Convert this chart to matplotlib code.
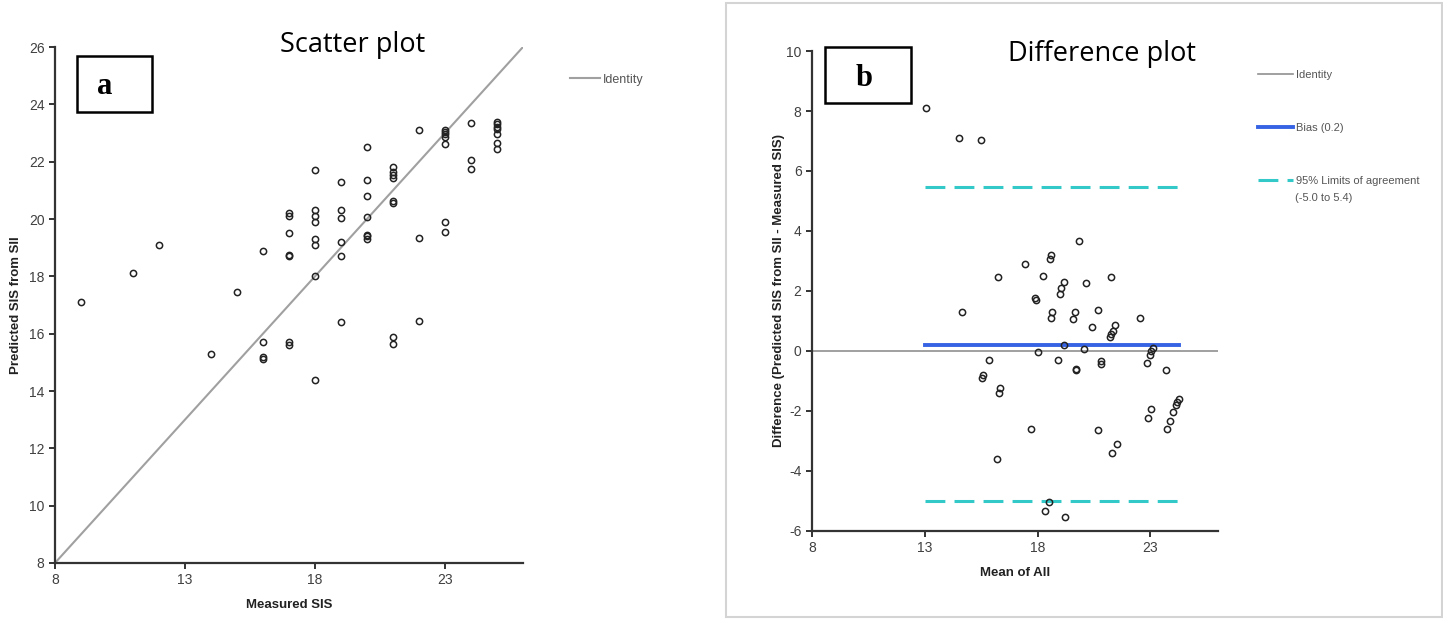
import numpy as np
import matplotlib
matplotlib.use("Agg")
from matplotlib import pyplot as plt
from matplotlib.patches import Rectangle

plt.rcParams['font.family'] = ['Liberation Sans', 'DejaVu Sans']
plt.rcParams['axes.unicode_minus'] = False

# --- panel a: scatter plot ---
measured = [9, 11, 12, 14, 15, 16, 16, 16, 16,
            17, 17, 17, 17, 17, 17, 17,
            18, 18, 18, 18, 18, 18, 18, 18,
            19, 19, 19, 19, 19, 19,
            20, 20, 20, 20, 20, 20, 20,
            21, 21, 21, 21, 21, 21, 21, 21,
            22, 22, 22,
            23, 23, 23, 23, 23, 23, 23,
            24, 24, 24,
            25, 25, 25, 25, 25, 25, 25]
predicted = [17.1, 18.1, 19.1, 15.3, 17.45, 18.9, 15.7, 15.2, 15.1,
             20.2, 20.1, 19.5, 18.75, 18.7, 15.7, 15.6,
             21.7, 20.3, 20.1, 19.9, 19.3, 19.1, 18.0, 14.4,
             21.3, 20.3, 20.05, 19.2, 18.7, 16.4,
             22.5, 21.35, 20.8, 20.07, 19.45, 19.4, 19.3,
             21.8, 21.65, 21.53, 21.42, 20.63, 20.55, 15.9, 15.65,
             23.1, 19.35, 16.45,
             23.1, 23.05, 22.95, 22.85, 22.6, 19.9, 19.55,
             23.35, 22.05, 21.75,
             23.4, 23.3, 23.2, 23.15, 22.95, 22.65, 22.45]
identity_range = [8, 26]

# --- panel b: difference plot ---
mean_all = [13.05, 14.5, 15.5, 16.25, 17.45, 17.9, 17.95, 18.25, 18.55, 18.6,
            19.0, 19.05, 19.15, 19.85, 20.15, 21.25, 14.65, 20.7, 22.55,
            18.65, 18.6, 19.65, 19.55, 20.4, 21.45, 21.35, 21.25, 21.2,
            19.15, 20.05, 23.1, 23.05, 23.0, 18.0, 18.9, 15.85, 22.85,
            20.8, 20.8, 19.7, 19.7, 23.7, 15.6, 15.55, 16.35, 16.3,
            24.25, 24.2, 24.15, 23.05, 24.0, 22.9, 23.85, 23.75, 17.7,
            20.7, 21.5, 21.3, 16.2, 18.5, 18.35, 19.2]
difference = [8.1, 7.1, 7.05, 2.45, 2.9, 1.75, 1.7, 2.5, 3.05, 3.2,
              1.9, 2.1, 2.3, 3.65, 2.25, 2.45, 1.3, 1.35, 1.1,
              1.3, 1.1, 1.3, 1.05, 0.8, 0.85, 0.65, 0.55, 0.45,
              0.2, 0.05, 0.1, 0.0, -0.15, -0.05, -0.3, -0.3, -0.4,
              -0.35, -0.45, -0.6, -0.65, -0.65, -0.8, -0.9, -1.25, -1.4,
              -1.6, -1.7, -1.8, -1.95, -2.05, -2.25, -2.35, -2.6, -2.6,
              -2.65, -3.1, -3.4, -3.6, -5.05, -5.35, -5.55]
bias = 0.2
loa_low = -5.0
loa_high = 5.45
line_span = [13, 24.25]

spine_col = '#333333'
tick_col = '#404040'
blue = '#3563e3'
cyan = '#33c9c9'
gray = '#a0a0a0'

fig = plt.figure(figsize=(14.43, 6.19), dpi=100)


def style_axes(ax):
    for s in ['top', 'right']:
        ax.spines[s].set_visible(False)
    for s in ['left', 'bottom']:
        ax.spines[s].set_color(spine_col)
        ax.spines[s].set_linewidth(1.6)
    ax.tick_params(direction='out', length=4, width=1.4, color=spine_col,
                   labelsize=10, labelcolor=tick_col)


ax1 = fig.add_axes([0.0381, 0.0905, 0.3243, 0.8335])
style_axes(ax1)
ax1.plot(identity_range, identity_range, color=gray, lw=1.5, label='Identity', zorder=1)
ax1.plot(measured, predicted, 'o', mfc='none', mec='#222222', ms=4.5, mew=1.1, zorder=2)
ax1.set_xlim(8, 26)
ax1.set_ylim(8, 26)
ax1.set_xticks([8, 13, 18, 23])
ax1.set_yticks(np.arange(8, 27, 2))
ax1.set_xlabel('Measured SIS', fontsize=9.5, fontweight='bold', color='#222222', labelpad=8)
ax1.set_ylabel('Predicted SIS from SII', fontsize=9.5, fontweight='bold', color='#222222', labelpad=5)
ax1.legend(loc='upper left', bbox_to_anchor=(0.3875, 0.899), bbox_transform=fig.transFigure,
           frameon=False, fontsize=9, handlelength=2.4, handletextpad=0.2,
           labelcolor='#555555')

ax2 = fig.add_axes([0.5627, 0.1422, 0.2814, 0.7754])
style_axes(ax2)
ax2.axhline(0, color='#909090', lw=1.2, label='Identity', zorder=1)
ax2.plot(line_span, [bias, bias], color=blue, lw=2.8, label='Bias (0.2)', zorder=2)
ax2.plot(line_span, [loa_high, loa_high], color=cyan, lw=2.2, dashes=(6.5, 3),
         label='95% Limits of agreement', zorder=2)
ax2.plot(line_span, [loa_low, loa_low], color=cyan, lw=2.2, dashes=(6.5, 3), zorder=2)
ax2.plot(mean_all, difference, 'o', mfc='none', mec='#222222', ms=4.5, mew=1.1, zorder=3)
ax2.set_xlim(8, 26)
ax2.set_ylim(-6, 10)
ax2.set_xticks([8, 13, 18, 23])
ax2.set_yticks(np.arange(-6, 11, 2))
ax2.set_xlabel('Mean of All', fontsize=9.5, fontweight='bold', color='#222222', labelpad=8)
ax2.set_ylabel('Difference (Predicted SIS from SII - Measured SIS)', fontsize=9.5,
               fontweight='bold', color='#222222', labelpad=1)
ax2.legend(loc='upper left', bbox_to_anchor=(0.8652, 0.903), bbox_transform=fig.transFigure,
           frameon=False, fontsize=8, handlelength=3.15, handletextpad=0.2,
           labelspacing=3.85, labelcolor='#555555')
fig.text(1295 / 1443, 1 - 198 / 619, '(-5.0 to 5.4)', fontsize=8, color='#555555',
         ha='left', va='center')

# panel border on the right
fig.add_artist(Rectangle((0.503, 0.004), 0.496, 0.991, transform=fig.transFigure,
                         fill=False, edgecolor='#d4d4d4', lw=1.5))

# panel tags
fig.add_artist(Rectangle((77 / 1443, 1 - 112 / 619), 75 / 1443, 56 / 619,
                         transform=fig.transFigure, fill=False, edgecolor='black', lw=1.8))
fig.text(105 / 1443, 1 - 86 / 619, 'a', family='Liberation Serif', fontweight='bold',
         fontsize=22, ha='center', va='center')
fig.add_artist(Rectangle((825 / 1443, 1 - 103 / 619), 86 / 1443, 56 / 619,
                         transform=fig.transFigure, fill=False, edgecolor='black', lw=1.8))
fig.text(864 / 1443, 1 - 78 / 619, 'b', family='Liberation Serif', fontweight='bold',
         fontsize=22, ha='center', va='center')

# titles
fig.text(353 / 1443, 1 - 45 / 619, 'Scatter plot', family='Open Sans', fontsize=19.5,
         ha='center', va='center')
fig.text(1102 / 1443, 1 - 54 / 619, 'Difference plot', family='Open Sans', fontsize=19.5,
         ha='center', va='center')

fig.savefig('out.png', dpi=100)
